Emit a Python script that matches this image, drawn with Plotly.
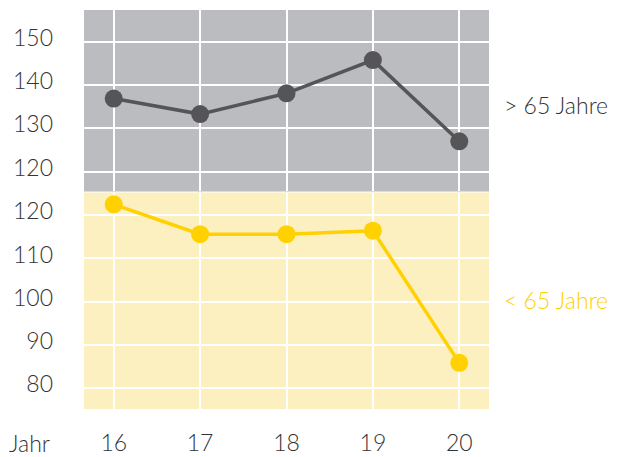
import plotly.graph_objects as go
from plotly.subplots import make_subplots

# ----------------------------
# Data
# ----------------------------

years = [16, 17, 18, 19, 20]

over_65 = [136.9, 133.3, 138.1, 145.8, 127.0]

under_65 = [122.5, 115.6, 115.6, 116.4, 85.9]

top_ticks = [120, 130, 140, 150]

bottom_ticks = [80, 90, 100, 110, 120]

GRAY_BG = "#BBBCC0"
YELLOW_BG = "#FDF0C0"
GRAY_LINE = "#555558"
YELLOW_LINE = "#FFD100"
TEXT = "#333333"

FONT = dict(family="Lato", size=23, color=TEXT, weight=300)

fig = make_subplots(rows=2, cols=1, shared_xaxes=True, vertical_spacing=0.003,
                    row_heights=[0.456, 0.544])

fig.add_trace(
    go.Scatter(
        x=years,
        y=over_65,
        mode="lines+markers",
        line=dict(color=GRAY_LINE, width=3.5),
        marker=dict(color=GRAY_LINE, size=18),
        name="> 65 Jahre",
    ),
    row=1, col=1,
)

fig.add_trace(
    go.Scatter(
        x=years,
        y=under_65,
        mode="lines+markers",
        line=dict(color=YELLOW_LINE, width=3.5),
        marker=dict(color=YELLOW_LINE, size=18),
        name="< 65 Jahre",
    ),
    row=2, col=1,
)

# ----------------------------
# Axes
# ----------------------------

xcommon = dict(
    range=[15.656, 20.344],
    tickvals=years,
    showgrid=True,
    gridcolor="white",
    gridwidth=1.5,
    zeroline=False,
    showline=False,
    automargin=False,
    tickfont=FONT,
)

fig.update_xaxes(**xcommon, showticklabels=False, row=1, col=1)
fig.update_xaxes(**xcommon, showticklabels=True, ticklabelstandoff=18, row=2, col=1)

ycommon = dict(
    showgrid=True,
    gridcolor="white",
    gridwidth=1.5,
    zeroline=False,
    showline=False,
    automargin=False,
    tickfont=FONT,
    ticklabelstandoff=30,
    ticklabelshift=-4,
)

fig.update_yaxes(**ycommon, range=[115.4, 157.4], tickvals=top_ticks, row=1, col=1)
fig.update_yaxes(**ycommon, range=[75.25, 125.2], tickvals=bottom_ticks, row=2, col=1)

# ----------------------------
# Panel backgrounds
# ----------------------------

fig.add_shape(type="rect", xref="x domain", yref="y domain", x0=0, x1=1, y0=0, y1=1,
              fillcolor=GRAY_BG, line_width=0, layer="below")
fig.add_shape(type="rect", xref="x2 domain", yref="y2 domain", x0=0, x1=1, y0=0, y1=1,
              fillcolor=YELLOW_BG, line_width=0, layer="below")

# ----------------------------
# Labels
# ----------------------------

fig.add_annotation(text="> 65 Jahre", xref="paper", yref="y", x=1.032, y=135.5,
                   xanchor="left", yanchor="middle", showarrow=False, font=FONT)
fig.add_annotation(text="< 65 Jahre", xref="paper", yref="y2", x=1.032, y=100.4,
                   xanchor="left", yanchor="middle", showarrow=False,
                   font=dict(FONT, color=YELLOW_LINE))
fig.add_annotation(text="Jahr", xref="paper", yref="paper", x=-0.078, y=-0.085,
                   xanchor="right", yanchor="middle", showarrow=False, font=FONT)

# page body has an 8px margin, so size is reduced to fit the window
fig.update_layout(
    width=616,
    height=449,
    margin=dict(l=76, r=135, t=2, b=48),
    paper_bgcolor="white",
    plot_bgcolor="rgba(0,0,0,0)",
    showlegend=False,
)

fig.write_html("out.html")
